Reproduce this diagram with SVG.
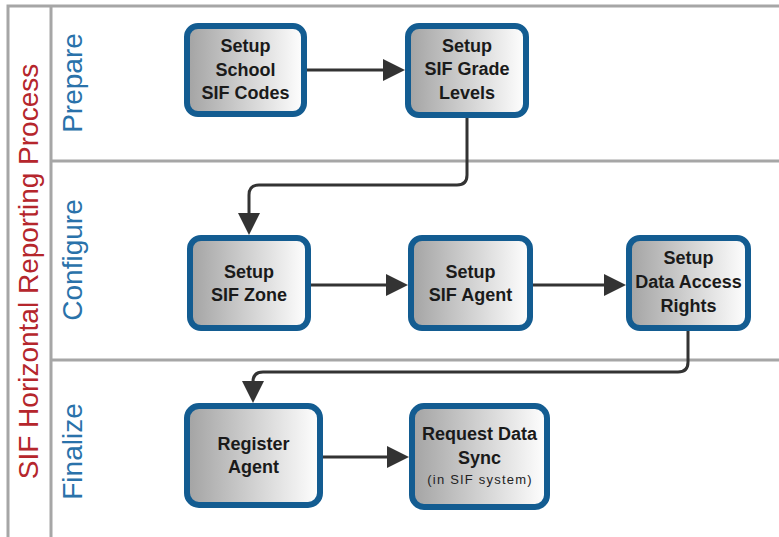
<svg xmlns="http://www.w3.org/2000/svg" width="779" height="537" viewBox="0 0 779 537">
<style>
.frame{stroke:#a6a6a6;stroke-width:3;fill:none}
.node rect.box{fill:url(#g);stroke:#135c91;stroke-width:6}
.node text{font-family:"Liberation Sans",Arial,sans-serif;font-weight:bold;font-size:18px;fill:#1a1a1a;text-anchor:middle}
.node text.small{font-weight:normal;font-size:13px;letter-spacing:1.2px;fill:#222}
.conn{stroke:#333;stroke-width:3;fill:none;marker-end:url(#arr)}
.lane{font-family:"Liberation Sans",Arial,sans-serif;font-size:28px;fill:#2a72aa;text-anchor:middle}
.title{font-family:"Liberation Sans",Arial,sans-serif;font-size:28px;fill:#b5262c;text-anchor:middle}
</style>
<defs>
<linearGradient id="g" x1="0" y1="0" x2="1" y2="0">
<stop offset="0" stop-color="#a3a3a3"/>
<stop offset="1" stop-color="#ffffff"/>
</linearGradient>
<marker id="arr" markerUnits="userSpaceOnUse" markerWidth="22" markerHeight="22" refX="12" refY="11" orient="auto">
<path d="M0,0 L22,11 L0,22 z" fill="#333"/>
</marker>
</defs>
<rect width="779" height="537" fill="#fff"/>
<g id="frame">
<path class="frame" d="M8,537 V6 H779 M51,6 V537 M51,161 H779 M51,360 H779"/>
<text class="title" transform="translate(38,271.5) rotate(-90)">SIF Horizontal Reporting Process</text>
<text class="lane" transform="translate(82,83) rotate(-90)">Prepare</text>
<text class="lane" transform="translate(82,260) rotate(-90)">Configure</text>
<text class="lane" transform="translate(82,451.5) rotate(-90)">Finalize</text>
</g>
<g id="connectors">
<path class="conn" d="M307,70 H395"/>
<path class="conn" d="M467,118 V175 Q467,185 457,185 H259 Q249,185 249,195 V225"/>
<path class="conn" d="M311,285 H398"/>
<path class="conn" d="M533,285 H616"/>
<path class="conn" d="M688,331 V362 Q688,372 678,372 H263 Q253,372 253,382 V393"/>
<path class="conn" d="M323,457 H399"/>
</g>
<g id="n1" class="node">
<rect class="box" x="187" y="26" width="117" height="88" rx="11"/>
<text x="245.5" y="52">Setup</text>
<text x="245.5" y="76">School</text>
<text x="245.5" y="99">SIF Codes</text>
</g>
<g id="n2" class="node">
<rect class="box" x="408" y="26" width="118" height="89" rx="11"/>
<text x="467" y="52">Setup</text>
<text x="467" y="75">SIF Grade</text>
<text x="467" y="99">Levels</text>
</g>
<g id="n3" class="node">
<rect class="box" x="190" y="238" width="118" height="90" rx="11"/>
<text x="249" y="278">Setup</text>
<text x="249" y="301">SIF Zone</text>
</g>
<g id="n4" class="node">
<rect class="box" x="411" y="238" width="119" height="90" rx="11"/>
<text x="470.5" y="278">Setup</text>
<text x="470.5" y="301">SIF Agent</text>
</g>
<g id="n5" class="node">
<rect class="box" x="629" y="238" width="119" height="90" rx="11"/>
<text x="688.5" y="264">Setup</text>
<text x="688.5" y="288">Data Access</text>
<text x="688.5" y="312">Rights</text>
</g>
<g id="n6" class="node">
<rect class="box" x="187" y="406" width="133" height="99" rx="12"/>
<text x="253.5" y="450">Register</text>
<text x="253.5" y="473">Agent</text>
</g>
<g id="n7" class="node">
<rect class="box" x="412" y="406" width="135" height="101" rx="12"/>
<text x="479.5" y="440">Request Data</text>
<text x="479.5" y="464">Sync</text>
<text class="small" x="480" y="484">(in SIF system)</text>
</g>
</svg>
